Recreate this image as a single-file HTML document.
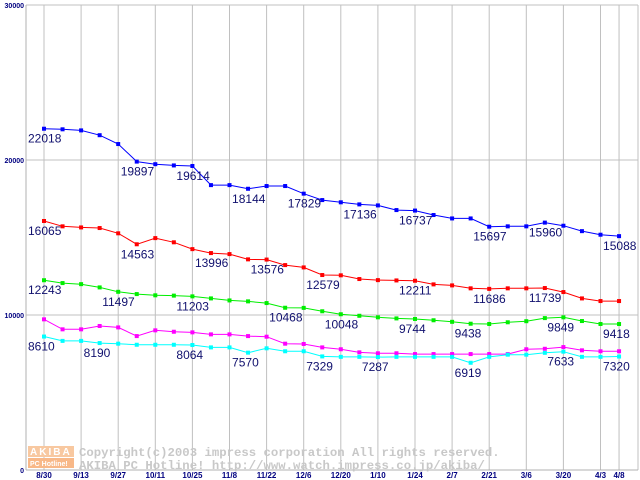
<!DOCTYPE html>
<html><head><meta charset="utf-8"><style>
html,body{margin:0;padding:0;background:#fff;}
svg{display:block;font-family:"Liberation Sans",sans-serif;}
</style></head><body>
<svg id="chart" width="640" height="480" viewBox="0 0 640 480" xmlns="http://www.w3.org/2000/svg">
<g id="grid"></g>
<g id="axes"></g>
<g id="watermark">
  <rect x="28" y="446" width="46" height="11" fill="#f8c8a0"/>
  <rect x="28" y="458" width="46" height="10" fill="#f8b888"/>
  <text x="30" y="455" font-size="10" fill="#fff" font-weight="bold" letter-spacing="2">AKIBA</text>
  <text x="30" y="466" font-size="7" fill="#fff" font-weight="bold">PC Hotline!</text>
  <text x="79" y="456" font-size="12.3" fill="#c8c8c8" font-family="Liberation Mono, monospace" font-weight="bold">Copyright(c)2003 impress corporation All rights reserved.</text>
  <text x="79" y="469" font-size="12.3" fill="#c8c8c8" font-family="Liberation Mono, monospace" font-weight="bold">AKIBA PC Hotline!  http://www.watch.impress.co.jp/akiba/</text>
</g>
<g id="series"></g>
</svg>
<script>
const xTickLabels = ["8/30","9/13","9/27","10/11","10/25","11/8","11/22","12/6","12/20","1/10","1/24","2/7","2/21","3/6","3/20","4/3","4/8"];
const xTickIndex = [0,2,4,6,8,10,12,14,16,18,20,22,24,26,28,30,31];
const yTicks = [0,10000,20000,30000];
const blueValues = [22018,21980,21910,21600,21030,19897,19730,19650,19614,18380,18380,18144,18320,18320,17829,17415,17270,17136,17070,16770,16737,16450,16230,16230,15697,15720,15720,15960,15760,15410,15180,15088];
const redValues = [16065,15720,15650,15610,15270,14563,14960,14690,14250,13996,13930,13590,13576,13220,13070,12579,12560,12320,12250,12230,12211,11975,11910,11720,11686,11720,11720,11739,11480,11070,10900,10900];
const greenValues = [12243,12060,11990,11780,11497,11350,11270,11250,11203,11070,10940,10880,10770,10468,10460,10240,10048,9950,9850,9780,9744,9660,9560,9438,9420,9530,9600,9800,9849,9610,9420,9418];
const magentaValues = [9720,9075,9075,9290,9200,8640,9010,8920,8880,8750,8750,8640,8600,8150,8130,7910,7790,7590,7530,7530,7480,7480,7480,7480,7480,7480,7790,7820,7930,7720,7660,7660];
const cyanValues = [8610,8330,8330,8190,8150,8080,8080,8080,8064,7910,7910,7570,7850,7660,7660,7329,7300,7300,7287,7300,7300,7300,7300,6919,7300,7440,7440,7560,7633,7300,7300,7320];
const blueLabelIdx = [0,5,8,11,14,17,20,24,27,31];
const redLabelIdx = [0,5,9,12,15,20,24,27];
const greenLabelIdx = [0,4,8,13,16,20,23,28,31];
const magentaLabelIdx = [];
const cyanLabelIdx = [0,3,8,11,15,18,23,28,31];

const NS="http://www.w3.org/2000/svg";
function xPos(i){return 44+i*18.55;}
function yPos(v){return 470-v*0.0155;}
function mk(tag,attrs,parent){const e=document.createElementNS(NS,tag);for(const k in attrs)e.setAttribute(k,attrs[k]);parent.appendChild(e);return e;}
const grid=document.getElementById('grid'),axes=document.getElementById('axes'),ser=document.getElementById('series');
yTicks.forEach(t=>{
  const l=mk('line',{x1:26,x2:638,y1:yPos(t),y2:yPos(t),stroke:'#c0c0c0','stroke-width':1},grid);
  
  
  const tx=mk('text',{x:24,y:yPos(t)+3,'font-size':7,'font-weight':'bold',fill:'#000080','text-anchor':'end'},axes);
  
  
  tx.textContent=t;
});
xTickIndex.forEach((ix,k)=>{
  const l=mk('line',{x1:xPos(ix),x2:xPos(ix),y1:5,y2:470,stroke:'#c0c0c0','stroke-width':1},grid);
  
  
  const tx=mk('text',{x:xPos(ix),y:478,'font-size':8,'font-weight':'bold',fill:'#000080','text-anchor':'middle'},axes);
  
  
  tx.textContent=xTickLabels[k];
});
const b1=mk('line',{x1:26,x2:26,y1:5,y2:470,stroke:'#b0b0b0'},grid);


const b2=mk('line',{x1:638,x2:638,y1:5,y2:470,stroke:'#c0c0c0'},grid);


const b3=mk('line',{x1:26,x2:638,y1:470,y2:470,stroke:'#b0b0b0'},grid);



const seriesList=[
 ['blue-series',blueValues,'#0000ff',blueLabelIdx],
 ['red-series',redValues,'#ff0000',redLabelIdx],
 ['green-series',greenValues,'#00ee00',greenLabelIdx],
 ['magenta-series',magentaValues,'#ff00ff',magentaLabelIdx],
 ['cyan-series',cyanValues,'#00ffff',cyanLabelIdx]
];
seriesList.forEach(([name,vals,col,lab])=>{
  const g=mk('g',{},ser);
  
  
  const pts=vals.map((v,i)=>xPos(i).toFixed(1)+','+yPos(v).toFixed(1)).join(' ');
  const pl=mk('polyline',{points:pts,fill:'none',stroke:col,'stroke-width':1},g);
  
  
  vals.forEach((v,i)=>{
    const r=mk('rect',{x:xPos(i)-2,y:yPos(v)-2,width:4,height:4,fill:col},g);
    
    
  });
  lab.forEach(i=>{
    const t=mk('text',{x:xPos(i)-16,y:yPos(vals[i])+14,'font-size':12,fill:'#10106e'},g);
    
    
    t.textContent=vals[i];
  });
});
</script>
</body></html>
